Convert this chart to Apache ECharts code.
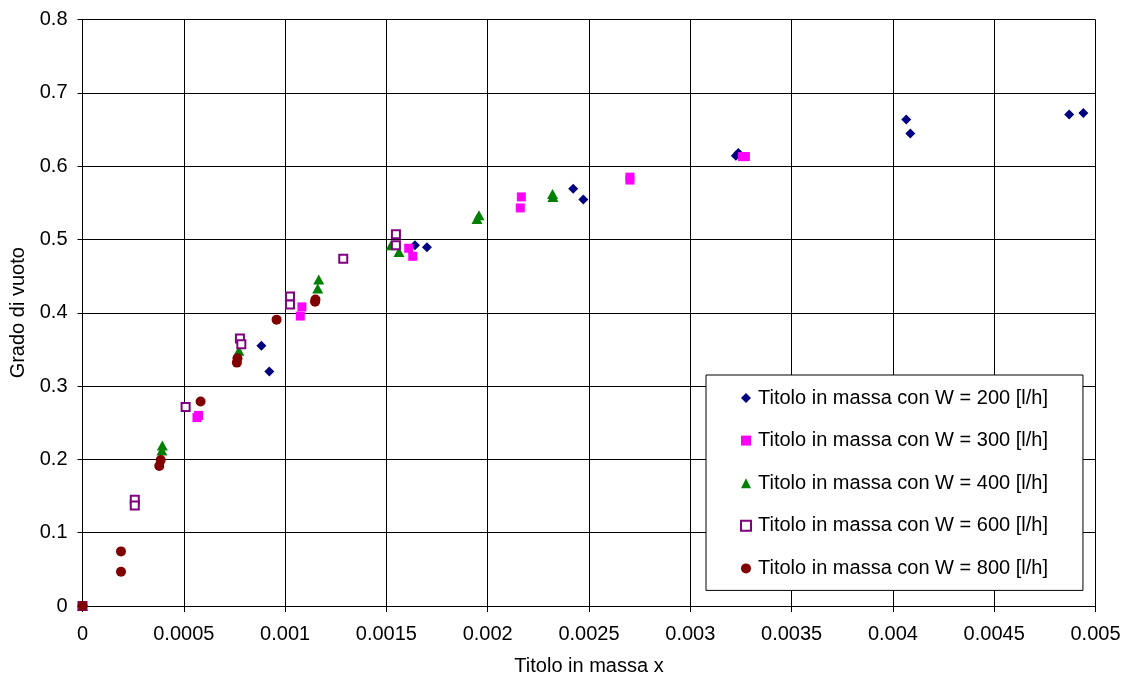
<!DOCTYPE html>
<html>
<head>
<meta charset="utf-8">
<script src="https://cdn.jsdelivr.net/npm/echarts@6/dist/echarts.min.js"></script>
<style>html,body{margin:0;padding:0;background:#fff}#c{width:1126px;height:681px}</style>
</head>
<body>
<div id="c"></div>
<script>
const seriesNames = [
  'Titolo in massa con W = 200 [l/h]',
  'Titolo in massa con W = 300 [l/h]',
  'Titolo in massa con W = 400 [l/h]',
  'Titolo in massa con W = 600 [l/h]',
  'Titolo in massa con W = 800 [l/h]'
];
const x200 = [0, 0.000883, 0.000922, 0.001641, 0.001700, 0.002422, 0.002472, 0.003237, 0.003225, 0.004066, 0.004086, 0.004870, 0.004940];
const y200 = [0, 0.355, 0.320, 0.492, 0.4895, 0.569, 0.5545, 0.618, 0.614, 0.6635, 0.6444, 0.6703, 0.6726];
const x300 = [0, 0.000573, 0.000565, 0.001083, 0.001075, 0.001610, 0.001630, 0.002166, 0.002161, 0.002702, 0.002702, 0.003258, 0.003272];
const y300 = [0, 0.260, 0.257, 0.408, 0.3955, 0.488, 0.477, 0.558, 0.543, 0.585, 0.581, 0.613, 0.613];
const x400 = [0, 0.000394, 0.000392, 0.000772, 0.001166, 0.001161, 0.001523, 0.001562, 0.001957, 0.001947, 0.002320, 0.002322];
const y400 = [0, 0.219, 0.212, 0.348, 0.4455, 0.433, 0.492, 0.4827, 0.533, 0.528, 0.562, 0.558];
const x600 = [0, 0.000258, 0.000258, 0.000509, 0.000777, 0.000784, 0.001024, 0.001024, 0.001287, 0.001547, 0.001547];
const y600 = [0, 0.145, 0.137, 0.2716, 0.365, 0.357, 0.422, 0.4114, 0.4737, 0.507, 0.492];
const x800 = [0, 0.000190, 0.000190, 0.000379, 0.000386, 0.000583, 0.000765, 0.000762, 0.000958, 0.001148, 0.001150];
const y800 = [0, 0.0745, 0.0467, 0.191, 0.199, 0.279, 0.338, 0.332, 0.3906, 0.415, 0.418];
const xTicks = [0, 0.0005, 0.001, 0.0015, 0.002, 0.0025, 0.003, 0.0035, 0.004, 0.0045, 0.005];
const yTicks = [0, 0.1, 0.2, 0.3, 0.4, 0.5, 0.6, 0.7, 0.8];

const pair = (xs, ys) => xs.map((v, i) => [v, ys[i]]);
const FONT = '"Liberation Sans", Arial, sans-serif';

const chart = echarts.init(document.getElementById('c'), null, {renderer: 'canvas'});
const styles = [
  {symbol: 'diamond', symbolSize: 10, itemStyle: {color: '#000080', opacity: 1}},
  {symbol: 'rect', symbolSize: 9, itemStyle: {color: '#FF00FF', opacity: 1}},
  {symbol: 'triangle', symbolSize: [11, 10], itemStyle: {color: '#008000', opacity: 1}},
  {symbol: 'rect', symbolSize: 8, itemStyle: {color: '#ffffff', borderColor: '#800080', borderWidth: 2, opacity: 1}},
  {symbol: 'circle', symbolSize: 10, itemStyle: {color: '#800000', opacity: 1}}
];
const datas = [pair(x200, y200), pair(x300, y300), pair(x400, y400), pair(x600, y600), pair(x800, y800)];

chart.setOption({
  backgroundColor: '#ffffff',
  animation: false,
  grid: {left: 82.5, right: 30.5, top: 19.5, bottom: 74, containLabel: false},
  xAxis: {
    type: 'value', min: 0, max: 0.005, interval: 0.0005,
    name: 'Titolo in massa x', nameLocation: 'middle', nameGap: 50,
    nameTextStyle: {fontFamily: FONT, fontSize: 20, color: '#000'},
    axisLine: {show: true, onZero: false, lineStyle: {color: '#000', width: 1}},
    axisTick: {show: true, length: 6, lineStyle: {color: '#000'}},
    axisLabel: {fontFamily: FONT, fontSize: 20, color: '#000', margin: 18,
      formatter: v => { const t = xTicks.find(k => Math.abs(k - v) < 1e-9); return t === undefined ? '' : String(t); }},
    splitLine: {show: true, lineStyle: {color: '#000', width: 1}}
  },
  yAxis: {
    type: 'value', min: 0, max: 0.8, interval: 0.1,
    name: 'Grado di vuoto', nameLocation: 'middle', nameGap: 52, nameRotate: 90,
    nameTextStyle: {fontFamily: FONT, fontSize: 20, color: '#000'},
    axisLine: {show: true, onZero: false, lineStyle: {color: '#000', width: 1}},
    axisTick: {show: true, length: 5, lineStyle: {color: '#000'}},
    axisLabel: {fontFamily: FONT, fontSize: 20, color: '#000', margin: 15,
      formatter: v => { const t = yTicks.find(k => Math.abs(k - v) < 1e-9); return t === undefined ? '' : String(t); }},
    splitLine: {show: true, lineStyle: {color: '#000', width: 1}}
  },
  legend: {
    orient: 'vertical', left: 706, top: 375,
    padding: [13, 35, 12, 34], itemGap: 22.6,
    itemWidth: 10, itemHeight: 10,
    backgroundColor: '#ffffff', borderColor: '#000', borderWidth: 1,
    textStyle: {fontFamily: FONT, fontSize: 20, color: '#000', padding: [0, 0, 0, 2]},
    data: seriesNames
  },
  series: seriesNames.map((n, i) => Object.assign({
    name: n, type: 'scatter', data: datas[i], z: 2 + i, emphasis: {disabled: true}
  }, styles[i]))
});
</script>
</body>
</html>
